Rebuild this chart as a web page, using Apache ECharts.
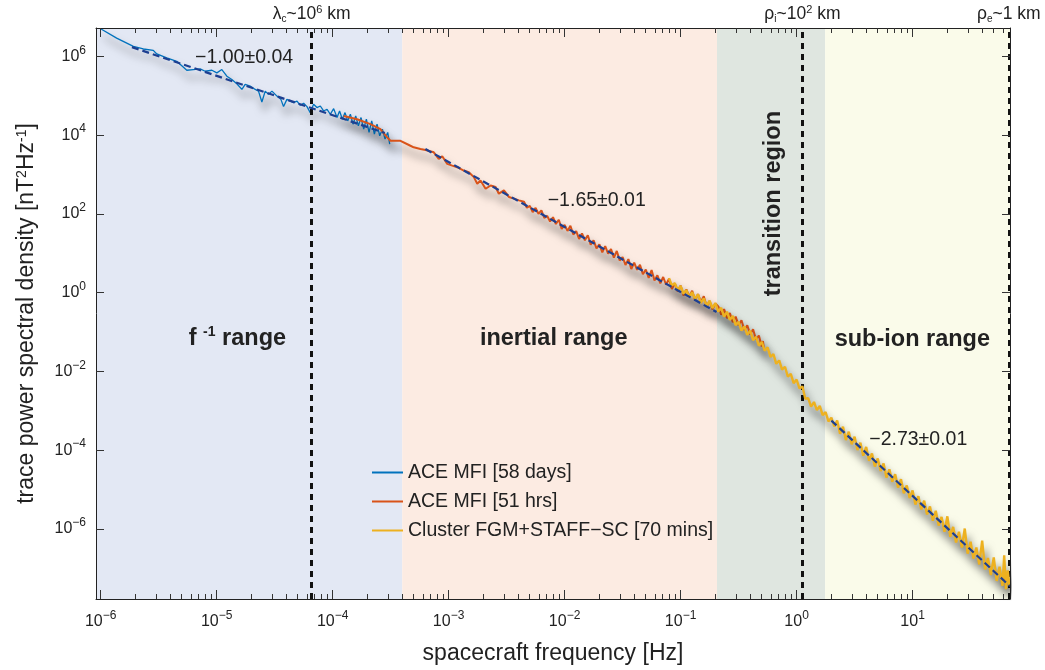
<!DOCTYPE html>
<html><head><meta charset="utf-8">
<script src="https://cdn.jsdelivr.net/npm/echarts@6/dist/echarts.min.js"></script>
<style>html,body{margin:0;padding:0;background:#fff}#c{width:1045px;height:670px}</style>
</head><body><div id="c"></div>
<script>
// All values are [log10 frequency (Hz), log10 PSD (nT^2/Hz)]
const aceLong = [[-6.00,6.70],[-5.862,6.464],[-5.718,6.252],[-5.632,6.187],[-5.546,6.151],[-5.516,6.061],[-5.430,5.960],[-5.344,5.874],[-5.257,5.647],[-5.200,5.665],[-5.142,5.682],[-5.099,5.622],[-5.041,5.647],[-4.998,5.581],[-4.955,5.665],[-4.912,5.496],[-4.869,5.412],[-4.826,5.304],[-4.782,5.160],[-4.754,5.286],[-4.711,5.243],[-4.667,5.160],[-4.639,5.117],[-4.610,4.840],[-4.581,5.117],[-4.553,5.034],[-4.523,5.117],[-4.480,4.991],[-4.446,4.908],[-4.423,4.724],[-4.394,4.908],[-4.365,4.865],[-4.337,4.825],[-4.307,4.865],[-4.279,4.757],[-4.250,4.807],[-4.221,4.724],[-4.193,4.572],[-4.164,4.782],[-4.135,4.699],[-4.106,4.739],[-4.078,4.613],[-4.048,4.656],[-4.020,4.530],[-3.991,4.673],[-3.962,4.446],[-3.940,4.613],[-3.916,4.404],[-3.893,4.572],[-3.870,4.361],[-3.847,4.530],[-3.824,4.277],[-3.801,4.487],[-3.778,4.235],[-3.755,4.446],[-3.732,4.151],[-3.709,4.404],[-3.686,4.068],[-3.663,4.361],[-3.640,4.025],[-3.617,4.277],[-3.594,3.982],[-3.571,4.151],[-3.548,3.899],[-3.525,4.068],[-3.508,3.773]];
const aceShort = [[-3.905,4.487],[-3.789,4.403],[-3.674,4.278],[-3.588,4.151],[-3.530,3.942],[-3.501,3.856],[-3.415,3.856],[-3.329,3.730],[-3.301,3.690],[-3.243,3.647],[-3.199,3.622],[-3.128,3.564],[-3.085,3.395],[-3.055,3.463],[-3.012,3.269],[-2.969,3.226],[-2.926,3.185],[-2.869,3.100],[-2.826,3.059],[-2.782,2.933],[-2.753,2.764],[-2.725,2.847],[-2.681,2.638],[-2.638,2.721],[-2.595,2.681],[-2.567,2.512],[-2.523,2.595],[-2.480,2.429],[-2.437,2.386],[-2.394,2.343],
 [-2.350,2.307],[-2.325,2.155],[-2.300,2.204],[-2.275,2.043],[-2.250,2.152],[-2.225,2.000],[-2.200,2.089],[-2.175,1.898],[-2.150,1.947],[-2.125,1.805],[-2.100,1.914],[-2.075,1.743],[-2.050,1.852],[-2.025,1.620],[-2.000,1.719],[-1.975,1.568],[-1.950,1.697],[-1.925,1.475],[-1.900,1.564],[-1.875,1.363],[-1.850,1.502],[-1.825,1.330],[-1.800,1.459],[-1.775,1.218],[-1.750,1.327],[-1.725,1.125],[-1.700,1.224],[-1.675,1.023],[-1.650,1.182],[-1.625,0.990],[-1.600,1.109],[-1.575,0.888],[-1.550,1.057],[-1.525,0.815],[-1.500,0.904],[-1.475,0.703],[-1.450,0.852],[-1.425,0.600],[-1.400,0.759],[-1.375,0.578],[-1.350,0.707],[-1.325,0.465],[-1.300,0.584],[-1.275,0.373],[-1.250,0.572],[-1.225,0.310],[-1.200,0.439],[-1.175,0.233],[-1.150,0.397],[-1.125,0.200],[-1.100,0.354],[-1.075,0.093],[-1.050,0.237],[-1.025,0.030],[-1.000,0.179],[-0.975,-0.072],[-0.950,0.082],[-0.925,-0.105],[-0.900,0.049],[-0.875,-0.197],[-0.850,-0.038],[-0.825,-0.240],[-0.800,-0.091],[-0.775,-0.362],[-0.750,-0.213],[-0.725,-0.425],[-0.700,-0.276],
 [-0.675,-0.350],[-0.650,-0.560],[-0.625,-0.420],[-0.600,-0.650],[-0.575,-0.520],[-0.550,-0.750],[-0.525,-0.610],[-0.500,-0.830],[-0.475,-0.700],[-0.450,-0.950],[-0.425,-0.830],[-0.400,-1.060],[-0.375,-0.930],[-0.350,-1.190],[-0.325,-1.090],[-0.300,-1.370],[-0.290,-1.230],[-0.280,-1.450]];
const cluster = [[-1.100,0.369],[-1.075,0.184],[-1.050,0.239],[-1.025,0.054],[-1.000,0.170],[-0.975,-0.029],[-0.950,0.064],[-0.925,-0.122],[-0.900,0.011],[-0.875,-0.166],[-0.850,-0.042],[-0.825,-0.259],[-0.800,-0.145],[-0.775,-0.341],[-0.750,-0.207],[-0.725,-0.393],[-0.700,-0.269],[-0.675,-0.479],[-0.650,-0.385],[-0.625,-0.610],[-0.600,-0.486],[-0.575,-0.691],[-0.550,-0.592],[-0.525,-0.826],[-0.500,-0.741],[-0.475,-0.965],[-0.450,-0.859],[-0.425,-1.072],[-0.400,-0.965],[-0.375,-1.208],[-0.350,-1.121],[-0.325,-1.347],[-0.300,-1.251],[-0.275,-1.474],[-0.250,-1.388],[-0.225,-1.631],[-0.200,-1.564],[-0.175,-1.808],[-0.150,-1.723],[-0.125,-1.957],[-0.100,-1.882],[-0.075,-2.136],[-0.050,-2.063],[-0.025,-2.300],[0.000,-2.206],[0.025,-2.433],[0.050,-2.380],[0.075,-2.695],[0.100,-2.679],[0.125,-2.893],[0.150,-2.778],[0.175,-2.983],[0.200,-2.878],[0.225,-3.112],[0.250,-3.036],[0.275,-3.270],[0.300,-3.174],[0.325,-3.398],
 [0.350,-3.248],[0.375,-3.586],[0.400,-3.404],[0.425,-3.742],[0.450,-3.531],[0.475,-3.849],[0.500,-3.657],[0.525,-3.995],[0.550,-3.814],[0.575,-4.142],[0.600,-3.920],[0.625,-4.268],[0.650,-4.087],[0.675,-4.415],[0.700,-4.213],[0.725,-4.531],[0.750,-4.340],[0.775,-4.698],[0.800,-4.486],[0.825,-4.804],[0.850,-4.613],[0.875,-4.951],[0.900,-4.739],[0.925,-5.097],[0.950,-4.896],[0.975,-5.214],[1.000,-5.022],[1.025,-5.380],[1.050,-5.169],[1.075,-5.507],[1.100,-5.285],[1.125,-5.633],[1.150,-5.432],[1.175,-5.790],[1.200,-5.538],[1.225,-5.916],[1.250,-5.695],[1.275,-6.073],[1.300,-5.681],[1.325,-6.199],[1.350,-5.948],[1.375,-6.346],[1.400,-6.074],[1.425,-6.472],[1.450,-5.991],[1.475,-6.629],[1.500,-6.327],[1.525,-6.755],[1.550,-6.474],[1.575,-6.902],[1.600,-6.300],[1.625,-7.028],[1.650,-6.737],[1.675,-7.175],[1.700,-6.723],[1.725,-7.321],[1.750,-6.960],[1.775,-7.448],[1.790,-6.669],[1.805,-7.530],[1.820,-7.051],[1.835,-7.440]];
const fitF1 = [[-5.73,6.235],[-3.55,4.055]];
const fitInertial = [[-3.20,3.647],[-0.69,-0.494]];
const fitSubIon = [[0.30,-3.251],[1.84,-7.455]];
const seriesNames = ['ACE MFI [58 days]','ACE MFI [51 hrs]','Cluster FGM+STAFF\u2212SC [70 mins]'];
const fitLabels = ['\u22121.00\u00b10.04','\u22121.65\u00b10.01','\u22122.73\u00b10.01'];
const bandEdges = [-6.04,-3.40,-0.686,0.246,1.84];
const scaleLinesF = [-4.18,0.048,1.826];
const xTickExp = [-6,-5,-4,-3,-2,-1,0,1];
const yTickExp = [-6,-4,-2,0,2,4,6];
const xRange = [-6.04,1.84];
const yRange = [-7.78,6.72];

const FONT = '"Liberation Sans", Arial, Helvetica, sans-serif';
const TXT = '#222';
const bandColors = ['#e3e8f4','#fcebe2','#dfe6e0','#fafbea'];
const seriesColors = ['#0072BD','#D95319','#EDB120'];
const fitColor = '#1d3f91';

function expText(n){ return n<0 ? '\u2212'+(-n) : String(n); }
const tickRich = {
  b:{fontSize:16,color:TXT,fontFamily:FONT,lineHeight:24},
  s:{fontSize:12,color:TXT,fontFamily:FONT,lineHeight:10,verticalAlign:'top'}
};
const tickFmt = v => '{b|10}{s|'+expText(Math.round(v))+'}';
const minorX = [];
for(let n=-7;n<=1;n++) for(let k=2;k<=9;k++){const v=n+Math.log10(k); if(v>xRange[0]&&v<xRange[1]) minorX.push(v);}

function xAx(pos, custom, len, showLine, labels){
  const a = {type:'value', position:pos, min:xRange[0], max:xRange[1], z:20,
    axisLine:{show:showLine,onZero:false,lineStyle:{color:'#222',width:1}},
    axisTick:{show:true,inside:true,length:len,customValues:custom,lineStyle:{color:'#333',width:1}},
    axisLabel:{show:!!labels},
    splitLine:{show:false}};
  if(labels){a.axisLabel={show:true,customValues:custom,formatter:tickFmt,rich:tickRich,margin:11};
    a.name='spacecraft frequency [Hz]'; a.nameLocation='middle'; a.nameGap=43;
    a.nameTextStyle={fontSize:23,color:TXT,fontFamily:FONT};}
  return a;
}
function yAx(pos, labels){
  const a = {type:'value', position:pos, min:yRange[0], max:yRange[1], z:20,
    axisLine:{show:true,onZero:false,lineStyle:{color:'#222',width:1}},
    axisTick:{show:true,inside:true,length:8,customValues:yTickExp,lineStyle:{color:'#333',width:1}},
    axisLabel:{show:!!labels},
    splitLine:{show:false}};
  if(labels){a.axisLabel={show:true,customValues:yTickExp,formatter:tickFmt,rich:tickRich,margin:10};
    a.name='trace power spectral density [nT{p|2}Hz{p|-1}]'; a.nameLocation='middle'; a.nameGap=58; a.nameRotate=90;
    a.nameTextStyle={fontSize:23,color:TXT,fontFamily:FONT,rich:{p:{fontSize:14,color:TXT,fontFamily:FONT,verticalAlign:'top',lineHeight:10}}};}
  return a;
}

const shadow = {shadowColor:'rgba(0,0,0,0.6)',shadowBlur:9,shadowOffsetX:3,shadowOffsetY:8};
const dataSeries = [aceLong,aceShort,cluster].map((d,i)=>({
  name:seriesNames[i], type:'line', data:d, symbol:'none', showSymbol:false, z:3+i,
  lineStyle:Object.assign({color:seriesColors[i],width:[1.3,2.0,2.4][i]},shadow),
  itemStyle:{color:seriesColors[i]}, animation:false
}));
const fitSeries = [fitF1,fitInertial,fitSubIon].map(d=>({
  type:'line', data:d, symbol:'none', z:8, silent:true, animation:false,
  lineStyle:{color:fitColor,width:2.2,type:[7,4]}
}));
const bandSeries = {type:'line', data:[[xRange[0],yRange[0]]], symbol:'none', z:1, silent:true, lineStyle:{opacity:0},
  markArea:{silent:true, data: bandColors.map((c,i)=>[{xAxis:bandEdges[i],itemStyle:{color:c}},{xAxis:bandEdges[i+1]}])}};
const supR = {fontSize:11,color:TXT,fontFamily:FONT,verticalAlign:'top',lineHeight:8};
const subR = {fontSize:10,color:TXT,fontFamily:FONT,verticalAlign:'bottom',lineHeight:6};
const scaleTexts = ['{t|\u03bb}{sb|c}{t|~10}{sp|6}{t| km}','{t|\u03c1}{sb|i}{t|~10}{sp|2}{t| km}','{t|\u03c1}{sb|e}{t|~1 km}'];
const lineSeries = {type:'line', data:[], symbol:'none', z:10, silent:true,
  markLine:{silent:true, symbol:['none','none'], animation:false,
    lineStyle:{color:'#111',width:3,type:[6,5]},
    label:{show:true, position:'end', distance:4, formatter:p=>scaleTexts[p.dataIndex],
      rich:{t:{fontSize:17.5,color:TXT,fontFamily:FONT,lineHeight:20},sp:supR,sb:subR}},
    data: scaleLinesF.map(v=>({xAxis:v}))}};

const chart = echarts.init(document.getElementById('c'), null, {renderer:'canvas'});
chart.setOption({
  animation:false,
  backgroundColor:'#fff',
  grid:{left:96,right:35,top:28,bottom:67,containLabel:false},
  xAxis:[xAx('bottom',xTickExp,9,true,true), xAx('bottom',minorX,5,false,false), xAx('top',xTickExp,9,true,false), xAx('top',minorX,5,false,false)],
  yAxis:[yAx('left',true), yAx('right',false)],
  legend:{data:seriesNames, orient:'vertical', left:372, top:461.5, padding:0, itemWidth:31, itemHeight:2, itemGap:7, icon:'rect',
    textStyle:{fontSize:19.5,color:TXT,fontFamily:FONT,lineHeight:22}},
  series:[bandSeries].concat(dataSeries, fitSeries, [lineSeries])
});

// annotations anchored in data coordinates
const annot = [
  {f:-4.763,p:5.967,text:fitLabels[0],size:19.5,bold:false},
  {f:-1.723,p:2.335,text:fitLabels[1],size:19.5,bold:false},
  {f:1.049,p:-3.743,text:fitLabels[2],size:19.5,bold:false},
  {f:-4.821,p:-1.170,text:'{r|f }{q|-1}{r| range}',size:23.5,bold:true},
  {f:-2.094,p:-1.170,text:'inertial range',size:23.5,bold:true},
  {f:0.998,p:-1.195,text:'sub-ion range',size:23.5,bold:true},
  {f:-0.203,p:2.260,text:'transition region',size:23.5,bold:true,rot:true}
];
const graphics = annot.map(a=>{
  const pt = chart.convertToPixel({xAxisIndex:0,yAxisIndex:0},[a.f,a.p]);
  return {type:'text', x:pt[0], y:pt[1], rotation:a.rot?Math.PI/2:0, z:30, silent:true,
    style:{text:a.text, fill:TXT, fontSize:a.size, fontWeight:a.bold?'bold':'normal', fontFamily:FONT,
      align:'center', verticalAlign:'middle',
      rich:{r:{fontSize:a.size,fontWeight:'bold',fontFamily:FONT,fill:TXT,color:TXT,lineHeight:28},
            q:{fontSize:14,fontWeight:'bold',fontFamily:FONT,fill:TXT,color:TXT,verticalAlign:'top',lineHeight:10}}}};
});
chart.setOption({graphic:graphics});
</script></body></html>
